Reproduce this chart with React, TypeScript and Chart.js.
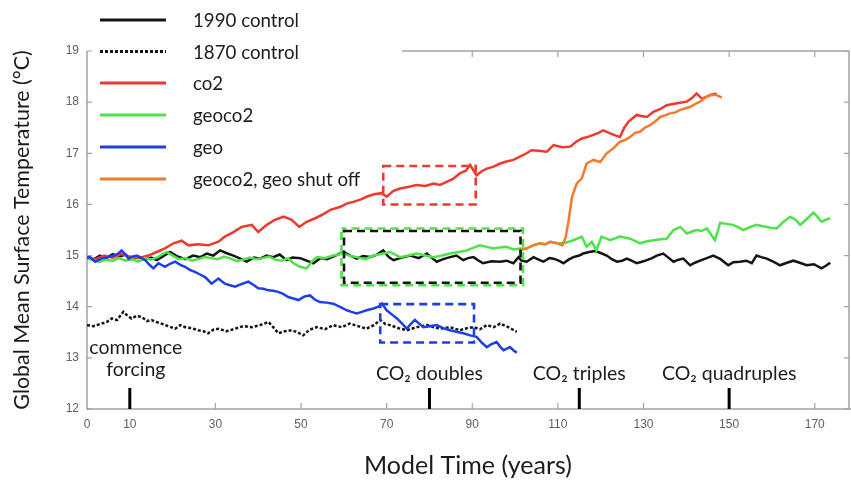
import React, { useEffect, useRef } from "react";
import { Chart, registerables } from "chart.js";

Chart.register(...registerables);

// ---------- data (model years, global mean surface temperature °C) ----------
const ctrl1990Years = [
  0, 1.5, 3, 4.5, 6, 7.5, 9, 10.5, 12, 13.5,
  15, 16.3, 18, 19.4, 21, 23, 24.8, 26.5, 28, 29.5,
  31.1, 32.5, 34.2, 35.8, 37.3, 39, 40.4, 42, 43.5, 45,
  46.6, 48, 49.8, 51.3, 52.9, 54.5, 56, 57.5, 59.9, 61.5,
  63, 64.5, 66.1, 67.7, 69.2, 70.5, 71.6, 73.5, 75.5, 77.5,
  79.4, 80.5, 81.7, 83.2, 84.8, 86.3, 87.9, 89, 90.3, 91.5,
  92.5, 94.5, 96.5, 98, 99.6, 100.8, 101.5, 102.7, 104.3, 105,
  106.6, 108, 109, 110.2, 111.3, 112.5, 113.6, 115, 115.9, 117.3,
  118.7, 120, 121.4, 122.6, 123.8, 125, 126.1, 127.2, 128.4, 129.6,
  130.8, 132, 133.1, 134.6, 135.8, 137, 138.2, 139.3, 140.9, 142,
  143.2, 144.8, 146.3, 148, 149.8, 151, 152.5, 154, 155.3, 156.4,
  157.5, 158.8, 160.3, 161.9, 163.5, 165, 166.5, 168.1, 169.8, 171.6,
  172.6, 173.6,
];
const ctrl1990Temps = [
  14.97, 14.92, 15.0, 14.95, 15.03, 14.98, 15.02, 14.93, 14.98, 14.92,
  14.96, 14.91, 15.0, 15.07, 14.99, 14.93, 15.0, 14.97, 15.04, 15.0,
  15.1, 15.05, 15.0, 14.94, 14.88, 14.96, 14.94, 15.0, 14.97, 15.02,
  14.91, 14.96, 14.95, 14.9, 14.85, 14.95, 14.93, 14.98, 15.07, 15.0,
  14.94, 14.99, 14.97, 15.02, 15.1, 14.97, 14.91, 14.96, 15.0, 14.95,
  15.04, 14.96, 14.88, 14.93, 14.97, 15.0, 14.91, 14.95, 14.97, 14.9,
  14.85, 14.89, 14.88, 14.9, 14.85, 14.97, 14.9, 14.88, 14.97, 14.94,
  14.88, 14.95, 14.94, 14.9, 14.85, 14.92, 14.97, 15.0, 15.04, 15.07,
  15.09, 15.05, 15.0, 14.93, 14.88, 14.9, 14.94, 14.9, 14.85, 14.88,
  14.91, 14.95, 15.0, 15.04, 14.96, 14.88, 14.92, 14.94, 14.81, 14.86,
  14.9, 14.95, 15.0, 14.93, 14.81, 14.87, 14.88, 14.9, 14.85, 15.0,
  14.97, 14.94, 14.88, 14.81, 14.86, 14.9, 14.86, 14.81, 14.83, 14.75,
  14.8, 14.86,
];

const ctrl1870Years = [
  0, 1.5, 3.4, 4.6, 5.8, 7, 8.5, 9.5, 10.4, 11.6,
  12.8, 14, 15.1, 16.2, 17.4, 19, 20.6, 21.8, 22.9, 24.5,
  26, 27.2, 28.3, 29.5, 30.7, 32.6, 34.6, 36.5, 38.5, 40.4,
  42.4, 43.5, 44.7, 46.2, 47.8, 49.2, 50.5, 52, 53.7, 55.6,
  57.5, 59.5, 61.4, 63.3, 65.3, 67, 68.5, 69.7, 70.8, 72.8,
  74.7, 77, 79.4, 81, 82.5, 84.8, 87.1, 88.7, 90.3, 91.8,
  93.4, 95, 96.5, 98.4, 99.5, 100.4,
];
const ctrl1870Temps = [
  13.64, 13.62, 13.67, 13.7, 13.77, 13.74, 13.9, 13.82, 13.77, 13.82,
  13.8, 13.72, 13.74, 13.7, 13.67, 13.62, 13.57, 13.64, 13.6, 13.58,
  13.54, 13.52, 13.48, 13.55, 13.57, 13.52, 13.57, 13.62, 13.6, 13.64,
  13.7, 13.6, 13.48, 13.52, 13.54, 13.5, 13.44, 13.55, 13.6, 13.56,
  13.64, 13.6, 13.67, 13.62, 13.57, 13.64, 13.74, 13.66, 13.64, 13.58,
  13.54, 13.6, 13.64, 13.6, 13.57, 13.6, 13.54, 13.58, 13.6, 13.56,
  13.64, 13.6, 13.67, 13.6, 13.55, 13.51,
];

const co2Years = [
  0, 2, 4, 6, 8, 10, 12, 14.3, 16.3, 18.2,
  20.2, 22.1, 23.7, 25.9, 28.3, 30.7, 32.2, 34.2, 36.1, 38.5,
  40, 42, 43.9, 45.9, 47.8, 49.6, 51.3, 53.3, 55, 57,
  59.1, 60.8, 62.2, 64, 65.3, 67, 68.8, 70, 71.5, 73.1,
  75, 77, 79, 81, 82.5, 84, 85.5, 87.1, 88.5, 89.5,
  91, 92.2, 93.4, 95, 96.5, 98, 99.6, 101, 102.7, 103.8,
  105.5, 107.4, 109, 111, 112.9, 114.2, 115.6, 117, 118.3, 119.5,
  120.6, 122.2, 123.4, 124.5, 125.5, 126.5, 128.4, 129.5, 130.8, 132.3,
  134, 135.4, 137.8, 140.1, 141.3, 142.4, 143.6, 144.6, 145.6, 147.1,
];
const co2Temps = [
  14.97, 14.93, 15.0, 14.96, 15.03, 14.98, 14.95, 15.0, 15.07, 15.14,
  15.24, 15.29, 15.2, 15.22, 15.2, 15.27, 15.37, 15.46, 15.56, 15.6,
  15.46, 15.6, 15.7, 15.76, 15.7, 15.56, 15.66, 15.73, 15.8, 15.9,
  15.95, 16.02, 16.05, 16.1, 16.15, 16.2, 16.22, 16.15, 16.26, 16.31,
  16.34, 16.38, 16.36, 16.41, 16.38, 16.44, 16.5, 16.61, 16.66, 16.77,
  16.57, 16.65, 16.7, 16.74, 16.8, 16.84, 16.87, 16.93, 17.0, 17.06,
  17.05, 17.03, 17.16, 17.12, 17.13, 17.22, 17.29, 17.32, 17.36, 17.4,
  17.45, 17.39, 17.35, 17.32, 17.5, 17.62, 17.75, 17.73, 17.71, 17.81,
  17.87, 17.94, 17.98, 18.01, 18.08, 18.17, 18.07, 18.1, 18.14, 18.17,
];

const geoco2Years = [
  0, 1.5, 3, 4.5, 6, 7.5, 9, 10.5, 12, 13.5,
  15, 16.5, 18.6, 20, 21.5, 23, 24.5, 26, 27.5, 29,
  30.5, 32, 33.5, 35, 36.5, 38, 39.5, 41, 42.5, 44,
  45.5, 47, 48.2, 49.8, 51.3, 52.5, 53.7, 55.5, 57.5, 59.9,
  61.5, 63, 65, 66.9, 68.8, 70.8, 72, 73.1, 75, 77,
  79, 81, 83, 84.8, 86.8, 88.7, 90.2, 91.8, 93.4, 94.9,
  96.5, 98, 99.6, 101.2, 102.7, 104.2, 105.8, 107, 108.2, 109.8,
  111.3, 112.5, 113.6, 115.6, 116.7, 117.9, 119, 120.2, 122.2, 124.5,
  126.9, 129.2, 130.8, 132.3, 134, 135.4, 137, 138.6, 140.1, 141.3,
  142.4, 143.6, 144.8, 146.7, 147.9, 149.4, 150.9, 152.2, 153.3, 155,
  156.4, 157.6, 158.8, 160, 161.1, 162.7, 164.3, 165.5, 166.6, 168.2,
  169.7, 170.6, 171.6, 172.6, 173.6,
];
const geoco2Temps = [
  14.95, 14.9, 14.88, 14.92, 14.9, 14.95, 14.9, 14.93, 14.88, 14.95,
  14.92, 14.97, 15.07, 15.0, 14.93, 14.95, 14.9, 14.93, 14.97, 14.95,
  14.93, 14.98, 14.94, 14.89, 14.92, 14.96, 14.93, 14.95, 14.98, 14.92,
  14.9, 14.95, 14.85, 14.78, 14.75, 14.88, 14.97, 14.95, 15.0, 15.04,
  14.99, 14.97, 14.93, 15.0, 15.03, 15.07, 15.02, 14.97, 15.0, 15.04,
  15.0, 14.97, 15.0, 15.04, 15.07, 15.1, 15.15, 15.2, 15.17, 15.14,
  15.16, 15.17, 15.12, 15.14, 15.14, 15.2, 15.24, 15.22, 15.27, 15.24,
  15.24, 15.27, 15.3, 15.37, 15.17, 15.27, 15.1, 15.37, 15.3, 15.37,
  15.33, 15.24, 15.28, 15.3, 15.32, 15.33, 15.5, 15.56, 15.43, 15.47,
  15.5, 15.48, 15.53, 15.3, 15.64, 15.62, 15.6, 15.55, 15.5, 15.56,
  15.6, 15.58, 15.56, 15.54, 15.53, 15.66, 15.76, 15.7, 15.6, 15.72,
  15.84, 15.76, 15.66, 15.7, 15.73,
];

const geoYears = [
  0, 0.7, 1.9, 3.4, 5, 6.2, 7.3, 8.1, 9, 9.7,
  10.6, 11.6, 12.6, 13.6, 14.6, 15.5, 16.7, 18.2, 19.4, 20.6,
  21.8, 22.9, 24, 25.2, 26.4, 27.6, 29.1, 30.7, 32.2, 33.4,
  34.6, 36, 37.7, 39, 40, 41.2, 42.4, 43.5, 44.7, 45.8,
  47, 48.2, 49.4, 50.8, 52.1, 53.2, 54.4, 56, 57.5, 59,
  60.7, 61.8, 63, 64.2, 65.3, 66.7, 68.1, 68.9, 70, 71.2,
  72.4, 73.5, 74.7, 75.6, 76.6, 77.6, 78.6, 80, 81.7, 83.2,
  84.8, 86.3, 87.9, 89.5, 91, 92.2, 93.4, 94.5, 95.7, 96.5,
  97.3, 98.1, 98.8, 99.6, 100.4,
];
const geoTemps = [
  14.95, 14.97, 14.88, 14.94, 14.97, 15.0, 15.04, 15.1, 15.02, 14.94,
  14.98, 15.0, 14.96, 14.91, 14.82, 14.75, 14.85, 14.78, 14.84, 14.88,
  14.82, 14.78, 14.72, 14.68, 14.63, 14.58, 14.45, 14.55, 14.45, 14.42,
  14.39, 14.44, 14.49, 14.42, 14.36, 14.35, 14.32, 14.31, 14.29, 14.25,
  14.19, 14.16, 14.13, 14.2, 14.22, 14.14, 14.09, 14.08, 14.06, 14.0,
  13.93, 13.9, 13.87, 13.9, 13.93, 13.96, 14.0, 14.06, 13.93, 13.85,
  13.77, 13.68, 13.57, 13.66, 13.74, 13.67, 13.6, 13.62, 13.64, 13.58,
  13.54, 13.51, 13.48, 13.44, 13.41, 13.3, 13.21, 13.27, 13.31, 13.22,
  13.15, 13.18, 13.21, 13.15, 13.1,
];

const shutOffYears = [
  101, 102.7, 104.2, 105.8, 107, 108.2, 109.8, 111, 111.8, 112.5,
  113.3, 114.4, 115.6, 116.7, 118.3, 119.9, 121.4, 123, 124.5, 125.7,
  126.9, 128, 129.2, 130.3, 131.5, 132.7, 133.9, 135, 136.2, 137.4,
  138.6, 139.8, 140.9, 142, 143.2, 144, 144.8, 145.9, 147, 148.3,
];
const shutOffTemps = [
  15.1, 15.14, 15.2, 15.24, 15.22, 15.27, 15.24, 15.2, 15.35, 15.69,
  16.15, 16.41, 16.51, 16.8, 16.87, 16.83, 17.0, 17.1, 17.23, 17.26,
  17.32, 17.4, 17.42, 17.5, 17.55, 17.62, 17.71, 17.74, 17.78, 17.8,
  17.85, 17.88, 17.91, 17.96, 18.01, 18.06, 18.11, 18.14, 18.14, 18.09,
];

// ---------- axes / annotations ----------
const xTickValues = [0, 10, 30, 50, 70, 90, 110, 130, 150, 170];
const xMarkValues = [10, 30, 50, 70, 90, 110, 130, 150, 170];
const yTickValues = [12, 13, 14, 15, 16, 17, 18, 19];
const xRange = [0, 178];
const yRange = [12, 19];

const legendLabels = ["1990 control", "1870 control", "co2", "geoco2", "geo", "geoco2, geo shut off"];
const eventYears = [10, 80, 115, 150];
const eventLabels = [["commence", "forcing"], ["CO₂ doubles"], ["CO₂ triples"], ["CO₂ quadruples"]];

// dashed highlight boxes [xmin, xmax] / [ymin, ymax] in data units
const redBoxX = [69.2, 90.8];
const redBoxY = [16.0, 16.75];
const midBoxX = [59.8, 101.5];
const midBoxY = [14.45, 15.5];
const blueBoxX = [68.5, 90.4];
const blueBoxY = [13.3, 14.05];

const COLORS = {
  black: "#141414",
  red: "#ee3a2c",
  green: "#4fe24a",
  blue: "#1e3fe4",
  orange: "#f47b2e",
  frame: "#a3a3a3",
  tickText: "#606060",
  text: "#1c1c1c",
};

const TEXT_FONT = "Lato, 'Open Sans', sans-serif";
const TICK_FONT = "'Liberation Sans Narrow', 'Liberation Sans', Arial, sans-serif";

const pts = (xs: number[], ys: number[]) => xs.map((x, i) => ({ x, y: ys[i] }));

const decorPlugin = {
  id: "decor",
  beforeDatasetsDraw(chart: any) {
    const { ctx, chartArea: a, scales } = chart;
    const xs = scales.x, ys = scales.y;
    ctx.save();
    ctx.strokeStyle = COLORS.frame;
    ctx.lineWidth = 1.5;
    ctx.beginPath();
    ctx.moveTo(a.left, a.top);
    ctx.lineTo(a.left, a.bottom);
    ctx.lineTo(chart.width, a.bottom);
    ctx.moveTo(a.right, a.top);
    ctx.lineTo(a.right, a.bottom);
    const topStart = 402;
    ctx.moveTo(topStart, a.top);
    ctx.lineTo(a.right, a.top);
    ctx.stroke();
    ctx.lineWidth = 1.2;
    ctx.beginPath();
    yTickValues.forEach((v) => {
      const y = ys.getPixelForValue(v);
      ctx.moveTo(a.left, y);
      ctx.lineTo(a.left + 5, y);
      ctx.moveTo(a.right, y);
      ctx.lineTo(a.right - 5, y);
    });
    xMarkValues.forEach((v) => {
      const x = xs.getPixelForValue(v);
      ctx.moveTo(x, a.bottom);
      ctx.lineTo(x, a.bottom - 6);
      if (x > topStart) {
        ctx.moveTo(x, a.top);
        ctx.lineTo(x, a.top + 6);
      }
    });
    ctx.stroke();
    ctx.restore();
  },
  afterDatasetsDraw(chart: any) {
    const { ctx, scales } = chart;
    const xs = scales.x, ys = scales.y;
    const rect = (bx: number[], by: number[]) => {
      const x0 = xs.getPixelForValue(bx[0]);
      const x1 = xs.getPixelForValue(bx[1]);
      const y0 = ys.getPixelForValue(by[1]);
      const y1 = ys.getPixelForValue(by[0]);
      return [x0, y0, x1 - x0, y1 - y0];
    };
    ctx.save();
    ctx.lineWidth = 2.6;
    ctx.setLineDash([8, 5]);
    let r = rect(redBoxX, redBoxY);
    ctx.strokeStyle = COLORS.red;
    ctx.strokeRect(r[0], r[1], r[2], r[3]);
    r = rect(blueBoxX, blueBoxY);
    ctx.strokeStyle = COLORS.blue;
    ctx.strokeRect(r[0], r[1], r[2], r[3]);
    r = rect(midBoxX, midBoxY);
    ctx.strokeStyle = COLORS.green;
    ctx.lineDashOffset = 3;
    ctx.strokeRect(r[0] - 1.5, r[1] - 1.5, r[2] + 3, r[3] + 3);
    ctx.strokeStyle = COLORS.black;
    ctx.lineDashOffset = 0;
    ctx.strokeRect(r[0] + 1, r[1] + 1, r[2] - 2, r[3] - 2);
    ctx.restore();
  },
  afterDraw(chart: any) {
    const { ctx, chartArea: a, scales } = chart;
    const xs = scales.x;
    ctx.save();
    ctx.fillStyle = COLORS.text;
    ctx.strokeStyle = "#000";
    ctx.lineWidth = 3;
    ctx.font = `19.5px ${TEXT_FONT}`;
    ctx.textAlign = "center";
    ctx.textBaseline = "middle";
    eventYears.forEach((yr, i) => {
      const x = xs.getPixelForValue(yr);
      ctx.beginPath();
      ctx.moveTo(x, a.bottom - 21);
      ctx.lineTo(x, a.bottom);
      ctx.stroke();
      const lines = eventLabels[i];
      if (lines.length === 2) {
        ctx.fillText(lines[0], x + 6, a.bottom - 61);
        ctx.fillText(lines[1], x + 6, a.bottom - 39);
      } else {
        ctx.fillText(lines[0], x, a.bottom - 35);
      }
    });
    const legendColors = [COLORS.black, COLORS.black, COLORS.red, COLORS.green, COLORS.blue, COLORS.orange];
    const rowY = [20, 51.5, 83, 115, 147, 179];
    ctx.font = `18.7px ${TEXT_FONT}`;
    ctx.textAlign = "left";
    legendLabels.forEach((lab, i) => {
      ctx.beginPath();
      ctx.strokeStyle = legendColors[i];
      ctx.lineWidth = 3.2;
      ctx.setLineDash(i === 1 ? [3, 2] : []);
      ctx.moveTo(100, rowY[i]);
      ctx.lineTo(166, rowY[i]);
      ctx.stroke();
      ctx.fillStyle = COLORS.text;
      ctx.fillText(lab, 193, rowY[i] + 1);
    });
    ctx.restore();
  },
};

export default function App() {
  const canvasRef = useRef<HTMLCanvasElement | null>(null);

  useEffect(() => {
    if (!canvasRef.current) return;
    const line = (data: any, color: string, extra: any = {}) => ({
      data,
      borderColor: color,
      backgroundColor: color,
      borderWidth: 2.5,
      pointRadius: 0,
      tension: 0,
      fill: false,
      ...extra,
    });
    const chart = new Chart(canvasRef.current, {
      type: "line",
      data: {
        datasets: [
          line(pts(shutOffYears, shutOffTemps), COLORS.orange, { label: legendLabels[5] }),
          line(pts(geoYears, geoTemps), COLORS.blue, { label: legendLabels[4] }),
          line(pts(geoco2Years, geoco2Temps), COLORS.green, { label: legendLabels[3] }),
          line(pts(co2Years, co2Temps), COLORS.red, { label: legendLabels[2] }),
          line(pts(ctrl1990Years, ctrl1990Temps), COLORS.black, { label: legendLabels[0] }),
          line(pts(ctrl1870Years, ctrl1870Temps), COLORS.black, { label: legendLabels[1], borderDash: [3, 2] }),
        ],
      },
      options: {
        responsive: false,
        animation: false,
        parsing: false as any,
        layout: { padding: { top: 51, right: 2, left: 0, bottom: 0 } },
        plugins: { legend: { display: false }, tooltip: { enabled: false } },
        scales: {
          x: {
            type: "linear",
            min: xRange[0],
            max: xRange[1],
            grid: { display: false, drawTicks: false },
            border: { display: false },
            afterBuildTicks: (s: any) => {
              s.ticks = xTickValues.map((v) => ({ value: v }));
            },
            afterFit: (s: any) => {
              s.height = 75;
            },
            ticks: {
              autoSkip: false,
              maxRotation: 0,
              padding: 8,
              color: COLORS.tickText,
              font: { family: TICK_FONT, size: 12 },
              callback: (v: any) => String(v),
            },
            title: {
              display: true,
              text: "Model Time (years)",
              color: COLORS.text,
              font: { family: TEXT_FONT, size: 25 },
              padding: { top: 0, bottom: 3 },
            },
          },
          y: {
            type: "linear",
            min: yRange[0],
            max: yRange[1],
            grid: { display: false, drawTicks: false },
            border: { display: false },
            afterBuildTicks: (s: any) => {
              s.ticks = yTickValues.map((v) => ({ value: v }));
            },
            afterFit: (s: any) => {
              s.width = 87;
            },
            ticks: {
              padding: 8,
              color: COLORS.tickText,
              font: { family: TICK_FONT, size: 12 },
              callback: (v: any) => String(v),
            },
            title: {
              display: true,
              text: "Global Mean Surface Temperature (°C)",
              color: COLORS.text,
              font: { family: TEXT_FONT, size: 21.4 },
              padding: { top: 9, bottom: 0 },
            },
          },
        },
      },
      plugins: [decorPlugin],
    });
    return () => chart.destroy();
  }, []);

  return (
    <div style={{ position: "fixed", left: 0, top: 0, width: 851, height: 484, background: "#fff" }}>
      <canvas ref={canvasRef} width={851} height={484} style={{ display: "block" }} />
    </div>
  );
}
